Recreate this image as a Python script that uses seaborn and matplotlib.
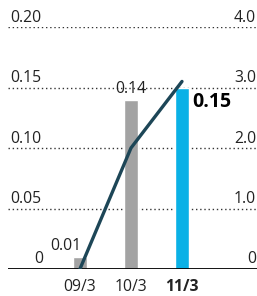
import matplotlib
matplotlib.use("Agg")
import matplotlib.pyplot as plt
import matplotlib.transforms as mtransforms
import numpy as np
import pandas as pd
import seaborn as sns

# données
periods = ["09/3", "10/3", "11/3"]
dividend = [0.01, 0.14, 0.15]
ratio = [0.0, 2.0, 3.1]
left_ticks = [0.05, 0.10, 0.15, 0.20]
left_labels = ["0.05", "0.10", "0.15", "0.20"]
right_labels = ["1.0", "2.0", "3.0", "4.0"]
bar_labels = ["0.01", "0.14", "0.15"]

sns.set_style("white")
plt.rcParams["font.family"] = ["Open Sans", "DejaVu Sans"]

df = pd.DataFrame({"period": periods, "dividend": dividend, "ratio": ratio})
colors = ["#a3a3a3", "#a3a3a3", "#0ab1e6"]

fig = plt.figure(figsize=(2.57, 2.96), dpi=100)
ax = fig.add_axes([8 / 257, 1 - 269 / 296, 249 / 257, 242 / 296])

# grille pointillée
for t in left_ticks:
    ax.axhline(t, color="#333333", lw=1, ls=(0, (1, 2)), zorder=0)
ax.axhline(0, color="black", lw=1.3, zorder=3)

sns.barplot(data=df, x="period", y="dividend", hue="period", palette=colors,
            legend=False, width=0.29, ax=ax, zorder=2, saturation=1)

ax.set_xlim(-1.41, 3.47)
ax.set_ylim(0, 0.2)
ax.set_xlabel("")
ax.set_ylabel("")
ax.set_yticks([])
ax.set_xticks([])
for s in ax.spines.values():
    s.set_visible(False)

# axe de droite : ratio
ax2 = ax.twinx()
sns.lineplot(x=np.arange(len(periods)), y=df["ratio"], color="#1d4657", lw=2.4, ax=ax2)
ax2.set_ylim(0, 4)
ax2.set_xlim(-1.41, 3.47)
ax2.set_yticks([])
ax2.set_ylabel("")
for s in ax2.spines.values():
    s.set_visible(False)

fs = 11.3
tr_left = mtransforms.blended_transform_factory(fig.transFigure, ax.transData)
for t, lab, rlab in zip(left_ticks, left_labels, right_labels):
    ax.text(10 / 257, t + 0.001, lab, transform=tr_left, ha="left", va="bottom", fontsize=fs, color="#222222")
    ax.text(256 / 257, t + 0.001, rlab, transform=tr_left, ha="right", va="bottom", fontsize=fs, color="#222222")
ax.text(43 / 257, 0.002, "0", transform=tr_left, ha="right", va="bottom", fontsize=fs, color="#222222")
ax.text(256 / 257, 0.002, "0", transform=tr_left, ha="right", va="bottom", fontsize=fs, color="#222222")

# étiquettes des barres
ax.text(-0.28, dividend[0] + 0.002, bar_labels[0], ha="center", va="bottom", fontsize=fs, color="#222222")
ax.text(1, dividend[1] + 0.002, bar_labels[1], ha="center", va="bottom", fontsize=fs, color="#222222")
ax.text(2.2, dividend[2] - 0.012, bar_labels[2], ha="left", va="center", fontsize=14,
        fontweight="bold", color="black")

# étiquettes de l'axe x
for i, p in enumerate(periods):
    ax.text(i, -0.008, p, ha="center", va="top", fontsize=fs, color="#222222",
            fontweight="bold" if i == 2 else "normal")

fig.savefig("out.png", dpi=100)
